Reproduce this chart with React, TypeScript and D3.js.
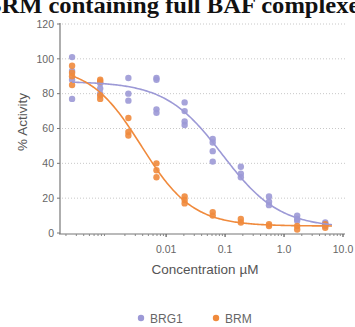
import React, { useEffect, useRef } from 'react';
import * as d3 from 'd3';

// concentrations in µM (3-fold dilution series)
const concentrations = [0.000254, 0.000762, 0.00229, 0.00686, 0.0206, 0.0617, 0.185, 0.556, 1.67, 5.0];

// replicate % activity values per concentration
const brg1Values = [
  [101, 93, 88, 77],
  [86, 83, 80],
  [89, 80, 76],
  [89, 88, 71, 69],
  [75, 70, 64, 62],
  [54, 52, 47, 41],
  [38, 34, 32],
  [21, 18, 16],
  [10, 8, 7],
  [6, 5, 4],
];
const brmValues = [
  [96, 92, 90, 85],
  [88, 87, 79, 77],
  [66, 58, 56],
  [40, 36, 32],
  [21, 19, 17],
  [12, 10],
  [8, 6],
  [5, 4],
  [4, 2],
  [5, 3],
];

// fitted 4-parameter logistic curves
const brg1Fit = { top: 87, bottom: 3, ic50: 0.09, hill: 0.9 };
const brmFit = { top: 96, bottom: 4, ic50: 0.0038, hill: 1.0 };

const xTicks = [0.01, 0.1, 1, 10];
const xTickLabels = ['0.01', '0.1', '1.0', '10.0'];
const yTicks = [0, 20, 40, 60, 80, 100, 120];
const seriesNames = ['BRG1', 'BRM'];
const colors = ['#9c99d6', '#f08a3c'];

const W = 355;
const H = 327;
const sans = '"Liberation Sans", Arial, sans-serif';

export default function App() {
  const svgRef = useRef<SVGSVGElement>(null);

  useEffect(() => {
    if (!svgRef.current) return;
    const svg = d3.select(svgRef.current);
    svg.selectAll('*').remove();

    const x = d3.scaleLog().domain([Math.pow(10, -3.8), 10]).range([60, 343]);
    const y = d3.scaleLinear().domain([0, 120]).range([233, 24]);

    // title (clipped at the top like the source)
    svg.append('text')
      .attr('x', 177)
      .attr('y', 13)
      .attr('text-anchor', 'middle')
      .attr('textLength', 384)
      .attr('lengthAdjust', 'spacingAndGlyphs')
      .style('font-family', '"Liberation Serif", serif')
      .style('font-weight', 'bold')
      .style('font-size', '24px')
      .style('fill', '#111')
      .text('BRM containing full BAF complexes');

    // grid
    svg.append('g')
      .selectAll('line')
      .data(yTicks.filter(t => t > 0))
      .enter().append('line')
      .attr('x1', 62)
      .attr('x2', 345)
      .attr('y1', d => y(d))
      .attr('y2', d => y(d))
      .style('stroke', '#c8c8c8')
      .style('stroke-width', 1)
      .style('stroke-dasharray', '1,2');

    // y axis
    const yAxis = svg.append('g');
    yAxis.append('line')
      .attr('x1', 60).attr('x2', 60)
      .attr('y1', y(120) - 1).attr('y2', y(0) + 1)
      .style('stroke', '#777')
      .style('stroke-width', 1.2);
    const yt = yAxis.selectAll('.yt').data(yTicks).enter().append('g').attr('class', 'yt');
    yt.append('line')
      .attr('x1', 57).attr('x2', 60)
      .attr('y1', d => y(d)).attr('y2', d => y(d))
      .style('stroke', '#777');
    yt.append('text')
      .attr('x', 54)
      .attr('y', d => y(d))
      .attr('dy', '0.35em')
      .attr('text-anchor', 'end')
      .style('font-family', sans)
      .style('font-size', '10.5px')
      .style('fill', '#666')
      .text(d => String(d));

    // x axis
    const xAxis = svg.append('g');
    xAxis.append('line')
      .attr('x1', 59).attr('x2', 345)
      .attr('y1', 234).attr('y2', 234)
      .style('stroke', '#777')
      .style('stroke-width', 1.2);
    const minor: number[] = [];
    for (let e = -4; e <= 0; e++) {
      for (let m = 2; m <= 9; m++) {
        const v = m * Math.pow(10, e);
        if (v > x.domain()[0] && v < 10) minor.push(v);
      }
    }
    xAxis.selectAll('.xm').data(minor).enter().append('line')
      .attr('x1', d => x(d)).attr('x2', d => x(d))
      .attr('y1', 234).attr('y2', 236)
      .style('stroke', '#888');
    xAxis.selectAll('.xM').data(xTicks).enter().append('line')
      .attr('x1', d => x(d)).attr('x2', d => x(d))
      .attr('y1', 234).attr('y2', 237)
      .style('stroke', '#666')
      .style('stroke-width', 1.3);
    xAxis.selectAll('.xl').data(xTicks).enter().append('text')
      .attr('x', d => x(d))
      .attr('y', 253)
      .attr('text-anchor', 'middle')
      .style('font-family', sans)
      .style('font-size', '10.5px')
      .style('fill', '#666')
      .text((d, i) => xTickLabels[i]);

    // axis titles
    svg.append('text')
      .attr('x', 205)
      .attr('y', 274)
      .attr('text-anchor', 'middle')
      .style('font-family', sans)
      .style('font-size', '13.5px')
      .style('fill', '#555')
      .text('Concentration µM');
    svg.append('text')
      .attr('transform', `translate(27, 122) rotate(-90)`)
      .attr('text-anchor', 'middle')
      .style('font-family', sans)
      .style('font-size', '13.5px')
      .style('fill', '#555')
      .text('% Activity');

    // points
    const allSeries = [brg1Values, brmValues];
    allSeries.forEach((vals, si) => {
      const pts = vals.flatMap((reps, ci) => reps.map(v => ({ c: concentrations[ci], v })));
      svg.append('g')
        .selectAll('circle')
        .data(pts)
        .enter().append('circle')
        .attr('cx', d => x(d.c))
        .attr('cy', d => y(d.v))
        .attr('r', 3.2)
        .style('fill', colors[si])
        .style('opacity', 0.9);
    });

    // fitted curves
    const fits = [brg1Fit, brmFit];
    const xs = d3.range(0, 201).map(i => Math.pow(10, Math.log10(concentrations[0]) + i * (Math.log10(6.5) - Math.log10(concentrations[0])) / 200));
    fits.forEach((f, si) => {
      const line = d3.line<number>()
        .x(c => x(c))
        .y(c => y(f.bottom + (f.top - f.bottom) / (1 + Math.pow(c / f.ic50, f.hill))));
      svg.append('path')
        .datum(xs)
        .attr('d', line)
        .attr('fill', 'none')
        .attr('stroke', colors[si])
        .attr('stroke-width', 1.6);
    });

    // legend
    const legendX = [141, 216];
    const legend = svg.append('g').selectAll('g').data(seriesNames).enter().append('g');
    legend.append('circle')
      .attr('cx', (d, i) => legendX[i])
      .attr('cy', 318)
      .attr('r', 3.2)
      .style('fill', (d, i) => colors[i]);
    legend.append('text')
      .attr('x', (d, i) => legendX[i] + 9)
      .attr('y', 319)
      .attr('dy', '0.35em')
      .style('font-family', sans)
      .style('font-size', '12px')
      .style('fill', '#666')
      .text(d => d);
  }, []);

  return (
    <div style={{ position: 'absolute', left: 0, top: 0 }}>
      <svg ref={svgRef} width={W} height={H} viewBox={`0 0 ${W} ${H}`} style={{ display: 'block', background: '#fff' }} />
    </div>
  );
}
